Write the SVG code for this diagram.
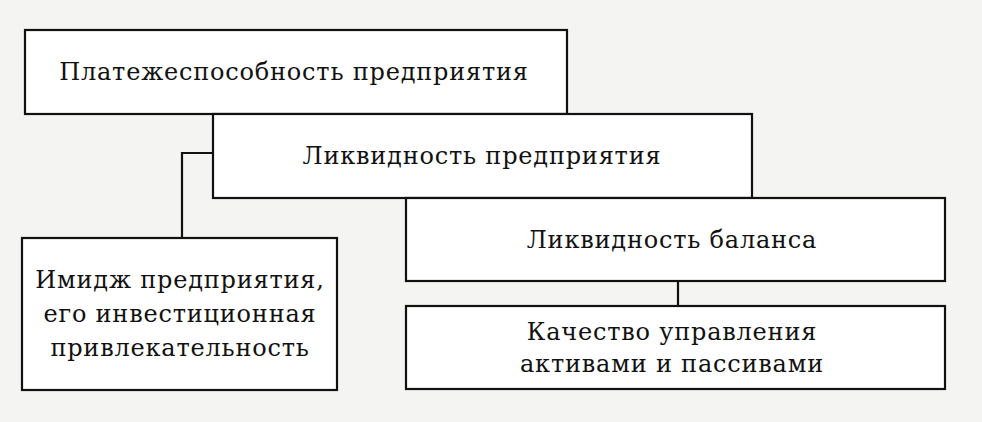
<svg xmlns="http://www.w3.org/2000/svg" width="982" height="422" viewBox="0 0 982 422">
<style>
.box{fill:#fff;stroke:#111;stroke-width:2.2}
.t{font-family:"DejaVu Serif","Liberation Serif",serif;font-size:24px;fill:#111;text-anchor:middle;letter-spacing:0.8px}
.c{fill:none;stroke:#111;stroke-width:2.2}
</style>
<rect width="982" height="422" fill="#f4f4f3"/>
<g id="connectors">
<polyline class="c" points="213,153 182,153 182,238"/>
<line class="c" x1="678" y1="281" x2="678" y2="306"/>
</g>
<g id="n1"><rect class="box" x="25" y="30" width="542" height="84"/><text class="t" x="294" y="80">Платежеспособность предприятия</text></g>
<g id="n2"><rect class="box" x="213" y="114" width="539" height="84"/><text class="t" x="482" y="164">Ликвидность предприятия</text></g>
<g id="n3"><rect class="box" x="406" y="198" width="539" height="83"/><text class="t" x="672" y="248">Ликвидность баланса</text></g>
<g id="n4"><rect class="box" x="22" y="238" width="315" height="152"/><text class="t" x="180" y="288">Имидж предприятия,</text><text class="t" x="180" y="322">его инвестиционная</text><text class="t" x="180" y="356">привлекательность</text></g>
<g id="n5"><rect class="box" x="406" y="306" width="539" height="83"/><text class="t" x="672" y="340">Качество управления</text><text class="t" x="672" y="372">активами и пассивами</text></g>
</svg>
